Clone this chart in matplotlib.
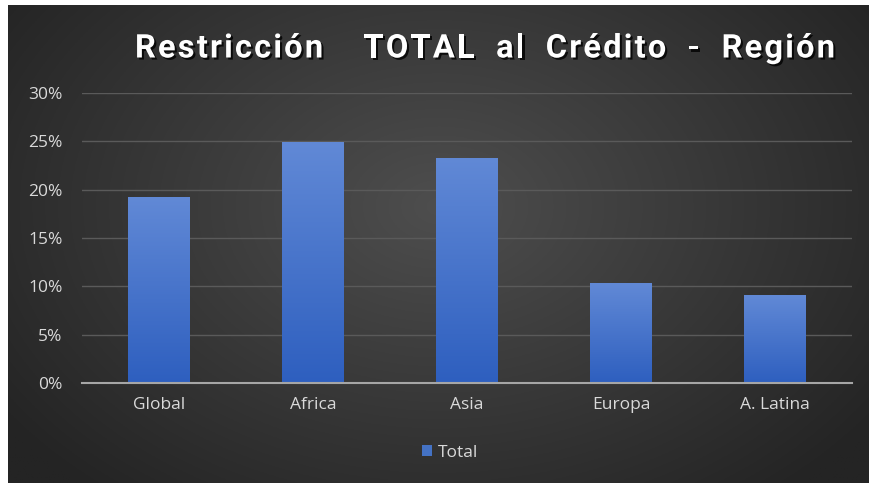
import numpy as np
import matplotlib
matplotlib.use("Agg")
import matplotlib.pyplot as plt
import matplotlib.patheffects as pe
from matplotlib.patches import Rectangle
from matplotlib.colors import LinearSegmentedColormap

categories = ["Global", "Africa", "Asia", "Europa", "A. Latina"]
values = [0.192, 0.249, 0.233, 0.103, 0.091]
yticks = [0, 0.05, 0.10, 0.15, 0.20, 0.25, 0.30]
ytick_labels = ["0%", "5%", "10%", "15%", "20%", "25%", "30%"]
title = "Restricción  TOTAL al Crédito - Región"
series_name = "Total"

W, H = 869, 483
fig = plt.figure(figsize=(W / 100, H / 100), dpi=100)
fig.patch.set_facecolor("white")

# background panel with radial gradient
bx0, by1 = 8 / W, (H - 5) / H
bg = fig.add_axes([bx0, 0, 1 - bx0, by1])
bg.set_axis_off()
ny, nx = 300, 540
yy, xx = np.mgrid[0:ny, 0:nx]
cx, cy = nx * 0.5, ny * 0.42
r = np.sqrt(((xx - cx) / (nx * 0.62)) ** 2 + ((yy - cy) / (ny * 0.78)) ** 2)
r = np.clip(r, 0, 1)
c0 = np.array([0x4e, 0x4e, 0x4e]) / 255
c1 = np.array([0x24, 0x24, 0x24]) / 255
img = c0[None, None, :] * (1 - r[..., None]) + c1[None, None, :] * r[..., None]
bg.imshow(img, aspect="auto", extent=[0, 1, 0, 1], origin="upper")
bg.set_xlim(0, 1)
bg.set_ylim(0, 1)

ax = fig.add_axes([82 / W, (H - 383) / H, (852 - 82) / W, (383 - 93) / H])
ax.set_facecolor("none")
x = np.arange(len(categories))
width = 0.40
bars = ax.bar(x, values, width=width, color="#4472c4", zorder=3, label=series_name)

grad_cmap = LinearSegmentedColormap.from_list("g", ["#2e5fbf", "#6189d6"])
grad = np.linspace(0, 1, 256).reshape(-1, 1)
for b in bars:
    b.set_facecolor("none")
    x0, y0 = b.get_x(), b.get_y()
    w, h = b.get_width(), b.get_height()
    im = ax.imshow(grad, cmap=grad_cmap, aspect="auto", origin="lower",
                   extent=[x0, x0 + w, y0, y0 + h], zorder=3)
    clip = Rectangle((x0, y0), w, h, transform=ax.transData)
    im.set_clip_path(clip)

ax.set_xlim(-0.5, len(categories) - 0.5)
ax.set_ylim(0, 0.30)
ax.set_yticks(yticks)
ax.set_yticklabels(ytick_labels)
ax.set_xticks(x)
ax.set_xticklabels(categories)
ax.yaxis.grid(True, color="#5a5a5a", linewidth=1.0, zorder=0)
ax.set_axisbelow(True)
for s in ["top", "right", "left"]:
    ax.spines[s].set_visible(False)
ax.spines["bottom"].set_color("#a6a6a6")
ax.spines["bottom"].set_linewidth(1.5)
ax.spines["bottom"].set_zorder(4)
ax.tick_params(axis="both", length=0, colors="#d9d9d9", labelsize=12.5)
ax.tick_params(axis="y", pad=14)
ax.tick_params(axis="x", pad=10)
for lab in ax.get_xticklabels() + ax.get_yticklabels():
    lab.set_family("Open Sans")

# Title drawn with letter spacing (spaces absorb the rest of the width)
renderer = fig.canvas.get_renderer()
tprops = dict(color="white", fontsize=23.5, fontweight="bold", family="Roboto")
def text_w(s):
    t = fig.text(0, 0, s + "|", **tprops)
    w1 = t.get_window_extent(renderer).width
    t.remove()
    t = fig.text(0, 0, "|", **tprops)
    w2 = t.get_window_extent(renderer).width
    t.remove()
    return w1 - w2
left_px, right_px = 135, 835
letter_sp = 2.2
full_w = text_w(title)
n = len(title)
n_sp = title.count(" ")
extra = (right_px - left_px - full_w - (n - 1) * letter_sp) / n_sp
ty = 1 - 45 / H
shadow = [pe.withSimplePatchShadow(offset=(1.5, -1.5), shadow_rgbFace="black", alpha=0.8)]
for i, ch in enumerate(title):
    if ch == " ":
        continue
    px = left_px + text_w(title[:i]) + i * letter_sp + title[:i].count(" ") * extra
    fig.text(px / W, ty, ch, ha="left", va="center_baseline", path_effects=shadow, **tprops)

handle = Rectangle((0, 0), 1, 1, facecolor="#4472c4")
leg = fig.legend([handle], [series_name], loc="center", bbox_to_anchor=(450 / W, 1 - 453 / H),
                 frameon=False, handlelength=0.6, handleheight=0.6, handletextpad=0.3,
                 prop={"family": "Open Sans", "size": 12.5})
for t in leg.get_texts():
    t.set_color("#d9d9d9")

fig.savefig("out.png", dpi=100)
